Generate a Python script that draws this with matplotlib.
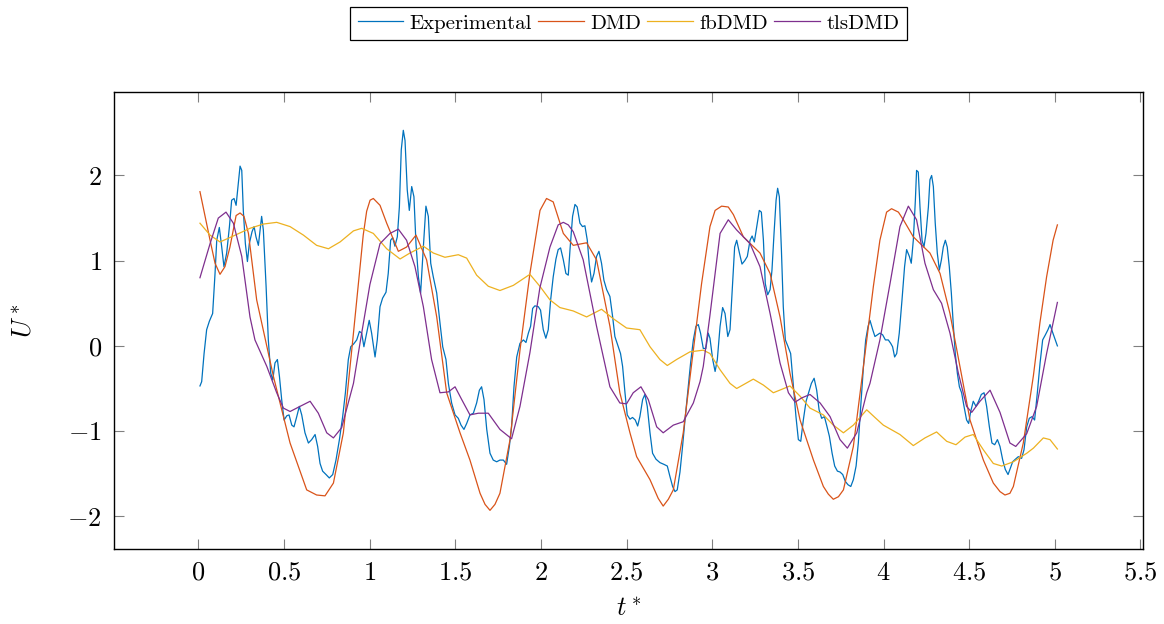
import numpy as np
import matplotlib
matplotlib.use("Agg")
import matplotlib.pyplot as plt

# LaTeX / pgfplots look
plt.rcParams['font.family'] = 'serif'
plt.rcParams['font.serif'] = ['cmr10']
plt.rcParams['mathtext.fontset'] = 'cm'
plt.rcParams['axes.formatter.use_mathtext'] = True

# Experimental signal
t_exp = [0.010, 0.020, 0.034, 0.049, 0.065, 0.084, 0.098, 0.108, 0.123, 0.137, 0.150, 0.166,
         0.182, 0.195, 0.209, 0.221, 0.232, 0.244, 0.254, 0.263, 0.275, 0.287, 0.298, 0.314,
         0.326, 0.337, 0.351, 0.361, 0.370, 0.380, 0.396, 0.409, 0.423, 0.435, 0.448, 0.462,
         0.474, 0.487, 0.501, 0.517, 0.530, 0.546, 0.559, 0.575, 0.590, 0.604, 0.623, 0.643,
         0.662, 0.682, 0.697, 0.711, 0.726, 0.746, 0.765, 0.785, 0.804, 0.824, 0.843, 0.859,
         0.876, 0.890, 0.906, 0.925, 0.941,
         0.954, 0.967, 0.983, 0.998, 1.012, 1.032, 1.045, 1.061, 1.076, 1.096, 1.109, 1.123,
         1.135, 1.148, 1.162, 1.174, 1.185, 1.197, 1.207, 1.220, 1.232, 1.246, 1.259, 1.271,
         1.285, 1.298, 1.314, 1.329, 1.343, 1.357, 1.372, 1.392, 1.411, 1.427, 1.446, 1.460,
         1.479, 1.499, 1.518, 1.534, 1.551, 1.567, 1.586, 1.606, 1.625, 1.641, 1.654, 1.668,
         1.684, 1.703, 1.722, 1.742, 1.761, 1.781, 1.800, 1.816, 1.829, 1.843, 1.859, 1.878,
         1.898, 1.913, 1.927, 1.940,
         1.952, 1.965, 1.985, 1.998, 2.014, 2.029, 2.043, 2.057, 2.072, 2.088, 2.101, 2.115,
         2.131, 2.146, 2.160, 2.170, 2.185, 2.199, 2.212, 2.228, 2.243, 2.257, 2.271, 2.282,
         2.296, 2.310, 2.325, 2.339, 2.354, 2.368, 2.384, 2.403, 2.419, 2.432, 2.452, 2.465,
         2.477, 2.491, 2.504, 2.520, 2.535, 2.551, 2.565, 2.578, 2.594, 2.607, 2.621, 2.637,
         2.652, 2.672, 2.695, 2.718, 2.738, 2.753, 2.769, 2.783, 2.796, 2.812, 2.827, 2.843,
         2.858, 2.874, 2.890, 2.905, 2.919, 2.932, 2.948, 2.963, 2.977,
         2.987, 3.003, 3.017, 3.030, 3.046, 3.061, 3.075, 3.091, 3.104, 3.118, 3.131, 3.143,
         3.159, 3.174, 3.190, 3.205, 3.221, 3.233, 3.246, 3.260, 3.275, 3.287, 3.299, 3.310,
         3.324, 3.338, 3.349, 3.361, 3.373, 3.382, 3.392, 3.404, 3.415, 3.427, 3.443, 3.458,
         3.474, 3.489, 3.503, 3.517, 3.532, 3.548, 3.563, 3.579, 3.595, 3.610, 3.624, 3.639,
         3.655, 3.668, 3.684, 3.700, 3.715, 3.731, 3.746, 3.762, 3.777, 3.793, 3.809, 3.824,
         3.840, 3.853, 3.867, 3.883, 3.896, 3.910,
         3.921, 3.937, 3.950, 3.964, 3.979, 3.995, 4.011, 4.028, 4.042, 4.053, 4.065, 4.077,
         4.092, 4.108, 4.123, 4.135, 4.151, 4.162, 4.174, 4.186, 4.193, 4.203, 4.213, 4.225,
         4.236, 4.248, 4.262, 4.271, 4.281, 4.291, 4.302, 4.314, 4.326, 4.338, 4.349, 4.361,
         4.372, 4.384, 4.396, 4.408, 4.419, 4.431, 4.443, 4.456, 4.470, 4.485, 4.497, 4.509,
         4.524, 4.540, 4.555, 4.571, 4.587, 4.602, 4.618, 4.633, 4.649, 4.665, 4.680, 4.696,
         4.711, 4.727, 4.738, 4.754, 4.770, 4.787, 4.806, 4.820, 4.836, 4.851, 4.867, 4.882,
         4.898, 4.914, 4.929, 4.945, 4.960, 4.972, 4.987, 5.015]
u_exp = [-0.47, -0.42, -0.09, 0.19, 0.29, 0.38, 0.85, 1.24, 1.39, 1.16, 0.93, 1.09,
         1.40, 1.71, 1.73, 1.65, 1.87, 2.11, 2.06, 1.59, 1.20, 0.99, 1.20, 1.34,
         1.40, 1.28, 1.18, 1.36, 1.52, 1.36, 0.70, 0.07, -0.32, -0.40, -0.20, -0.16,
         -0.36, -0.63, -0.87, -0.82, -0.81, -0.93, -0.95, -0.83, -0.71, -0.81, -1.02, -1.14,
         -1.10, -1.04, -1.18, -1.38, -1.47, -1.51, -1.55, -1.51, -1.34, -1.10, -0.83, -0.55,
         -0.16, -0.01, 0.02, 0.07, 0.17,
         0.15, -0.01, 0.15, 0.30, 0.15, -0.13, 0.07, 0.46, 0.56, 0.63, 0.85, 1.24,
         1.27, 1.17, 1.28, 1.63, 2.30, 2.53, 2.41, 1.83, 1.59, 1.87, 1.75, 1.20,
         0.81, 0.62, 1.16, 1.64, 1.52, 0.97, 0.81, 0.62, 0.27, -0.01, -0.16, -0.44,
         -0.67, -0.81, -0.85, -0.93, -0.98, -0.91, -0.81, -0.79, -0.67, -0.52, -0.48, -0.63,
         -0.98, -1.26, -1.34, -1.36, -1.34, -1.34, -1.39, -1.18, -0.95, -0.48, -0.13, 0.03,
         0.07, 0.04, 0.15, 0.23,
         0.44, 0.47, 0.46, 0.42, 0.19, 0.09, 0.19, 0.54, 0.81, 1.02, 1.13, 1.15,
         1.01, 0.85, 0.83, 1.13, 1.52, 1.66, 1.63, 1.44, 1.40, 1.41, 1.24, 0.97,
         0.75, 0.85, 1.05, 1.11, 0.97, 0.77, 0.66, 0.58, 0.34, 0.11, -0.01, -0.09,
         -0.24, -0.55, -0.81, -0.86, -0.84, -0.87, -0.94, -0.83, -0.63, -0.57, -0.71, -1.02,
         -1.26, -1.33, -1.37, -1.39, -1.41, -1.53, -1.65, -1.71, -1.69, -1.48, -1.18, -0.83,
         -0.52, -0.20, 0.07, 0.23, 0.25, 0.15, -0.03, -0.03, 0.15,
         0.09, -0.16, -0.30, -0.16, 0.23, 0.45, 0.38, 0.11, 0.19, 0.70, 1.16, 1.24,
         1.09, 0.96, 1.00, 1.05, 1.24, 1.29, 1.22, 1.40, 1.59, 1.57, 1.24, 0.73,
         0.60, 0.66, 0.89, 1.32, 1.71, 1.85, 1.75, 1.13, 0.46, 0.07, -0.01, -0.09,
         -0.48, -0.83, -1.10, -1.12, -0.87, -0.65, -0.55, -0.44, -0.38, -0.52, -0.75, -0.85,
         -0.83, -0.93, -1.06, -1.26, -1.41, -1.47, -1.48, -1.51, -1.59, -1.63, -1.65, -1.57,
         -1.41, -1.14, -0.71, -0.24, 0.07, 0.23,
         0.30, 0.19, 0.11, 0.13, 0.15, 0.13, 0.07, 0.07, 0.03, -0.01, -0.13, -0.09,
         0.15, 0.54, 0.93, 1.13, 1.05, 0.97, 1.24, 1.71, 2.06, 2.04, 1.63, 1.24,
         1.16, 1.32, 1.63, 1.95, 2.00, 1.87, 1.44, 1.09, 0.89, 1.01, 1.16, 1.24,
         1.16, 0.93, 0.62, 0.23, -0.09, -0.32, -0.48, -0.55, -0.71, -0.87, -0.91, -0.77,
         -0.65, -0.71, -0.65, -0.57, -0.55, -0.71, -0.95, -1.14, -1.16, -1.10, -1.18, -1.34,
         -1.45, -1.51, -1.45, -1.36, -1.33, -1.30, -1.32, -1.22, -0.95, -0.85, -0.83, -0.87,
         -0.55, -0.20, 0.07, 0.13, 0.19, 0.25, 0.16, 0.00]

# DMD reconstruction
t_dmd = [0.010, 0.069, 0.098, 0.127, 0.156, 0.185, 0.221, 0.244, 0.267, 0.293, 0.341, 0.439,
         0.536, 0.633, 0.691, 0.740, 0.789, 0.847, 0.906, 0.963, 0.983, 1.003, 1.022, 1.061,
         1.100, 1.168, 1.216, 1.271, 1.333, 1.392, 1.450, 1.528, 1.586, 1.645, 1.674, 1.703,
         1.732, 1.761, 1.820, 1.878, 1.936, 1.995, 2.033, 2.072, 2.131, 2.189, 2.267, 2.325,
         2.403, 2.461, 2.520, 2.559, 2.637, 2.685, 2.714, 2.744, 2.773, 2.831, 2.890, 2.938,
         2.987, 3.017, 3.055, 3.094, 3.124, 3.182, 3.279, 3.338, 3.396, 3.454, 3.513, 3.591,
         3.649, 3.678, 3.707, 3.737, 3.766, 3.824, 3.883, 3.941, 3.979, 4.018, 4.047, 4.087,
         4.116, 4.174, 4.271, 4.330, 4.388, 4.446, 4.505, 4.583, 4.641, 4.680, 4.709, 4.738,
         4.758, 4.816, 4.875, 4.913, 4.952, 4.990, 5.015]
u_dmd = [1.81, 1.24, 0.97, 0.84, 0.93, 1.16, 1.53, 1.56, 1.52, 1.32, 0.54, -0.36,
         -1.14, -1.69, -1.75, -1.76, -1.61, -1.02, 0.15, 1.30, 1.58, 1.71, 1.73, 1.65,
         1.44, 1.11, 1.16, 1.30, 1.01, 0.34, -0.55, -1.02, -1.34, -1.73, -1.86, -1.93,
         -1.86, -1.73, -1.10, -0.05, 0.85, 1.59, 1.73, 1.69, 1.32, 1.18, 1.21, 1.01,
         0.23, -0.55, -1.02, -1.30, -1.57, -1.79, -1.88, -1.80, -1.69, -1.02, -0.05, 0.73,
         1.40, 1.59, 1.64, 1.63, 1.54, 1.28, 1.09, 0.85, 0.34, -0.32, -0.87, -1.34,
         -1.65, -1.74, -1.80, -1.77, -1.69, -1.18, -0.24, 0.70, 1.24, 1.57, 1.61, 1.57,
         1.48, 1.28, 1.09, 0.85, 0.38, -0.24, -0.87, -1.34, -1.61, -1.71, -1.75, -1.73,
         -1.65, -1.14, -0.35, 0.27, 0.81, 1.24, 1.42]

# forward-backward DMD
t_fb = [0.010, 0.069, 0.127, 0.205, 0.302, 0.380, 0.458, 0.536, 0.614, 0.691, 0.760, 0.828,
        0.906, 0.954, 1.022, 1.100, 1.178, 1.236, 1.314, 1.372, 1.440, 1.518, 1.567, 1.625,
        1.693, 1.761, 1.839, 1.936, 1.994, 2.053, 2.111, 2.189, 2.267, 2.354, 2.422, 2.500,
        2.578, 2.637, 2.695, 2.738, 2.792, 2.870, 2.948, 2.987, 3.046, 3.104, 3.143, 3.240,
        3.299, 3.357, 3.406, 3.454, 3.513, 3.571, 3.649, 3.707, 3.766, 3.824, 3.902, 3.950,
        3.999, 4.096, 4.174, 4.242, 4.310, 4.369, 4.423, 4.476, 4.524, 4.583, 4.641, 4.690,
        4.758, 4.836, 4.875, 4.933, 4.972, 5.015]
u_fb = [1.44, 1.30, 1.22, 1.29, 1.38, 1.43, 1.45, 1.40, 1.30, 1.18, 1.14, 1.22,
        1.35, 1.38, 1.32, 1.14, 1.02, 1.09, 1.17, 1.09, 1.04, 1.07, 1.03, 0.83,
        0.70, 0.65, 0.71, 0.84, 0.70, 0.54, 0.45, 0.41, 0.34, 0.43, 0.32, 0.21,
        0.19, -0.01, -0.16, -0.23, -0.16, -0.07, -0.05, -0.09, -0.28, -0.44, -0.50, -0.39,
        -0.46, -0.55, -0.51, -0.47, -0.59, -0.73, -0.81, -0.93, -1.02, -0.93, -0.75, -0.84,
        -0.93, -1.04, -1.17, -1.08, -1.01, -1.12, -1.16, -1.07, -1.04, -1.22, -1.38, -1.41,
        -1.36, -1.26, -1.20, -1.08, -1.10, -1.21]

# total least squares DMD
t_tls = [0.010, 0.069, 0.117, 0.162, 0.205, 0.254, 0.302, 0.331, 0.400, 0.458, 0.497, 0.536,
         0.594, 0.653, 0.701, 0.750, 0.789, 0.837, 0.906, 0.944, 1.002, 1.061, 1.119, 1.168,
         1.216, 1.265, 1.314, 1.362, 1.411, 1.460, 1.499, 1.538, 1.586, 1.635, 1.693, 1.761,
         1.829, 1.878, 1.936, 1.994, 2.053, 2.101, 2.131, 2.160, 2.189, 2.247, 2.325, 2.403,
         2.461, 2.500, 2.539, 2.584, 2.627, 2.676, 2.714, 2.773, 2.831, 2.890, 2.929, 2.948,
         2.987, 3.046, 3.094, 3.143, 3.221, 3.279, 3.338, 3.396, 3.445, 3.484, 3.523, 3.571,
         3.630, 3.688, 3.746, 3.789, 3.844, 3.902, 3.921, 3.979, 4.038, 4.096, 4.145, 4.193,
         4.242, 4.291, 4.339, 4.388, 4.437, 4.485, 4.515, 4.563, 4.622, 4.680, 4.738, 4.772,
         4.836, 4.894, 4.952, 5.015]
u_tls = [0.80, 1.20, 1.50, 1.57, 1.44, 1.05, 0.34, 0.07, -0.24, -0.55, -0.73, -0.77,
         -0.71, -0.65, -0.79, -1.02, -1.08, -0.96, -0.44, 0.03, 0.72, 1.20, 1.32, 1.37,
         1.24, 0.93, 0.46, -0.16, -0.55, -0.54, -0.48, -0.63, -0.81, -0.79, -0.79, -0.98,
         -1.09, -0.71, -0.08, 0.68, 1.16, 1.42, 1.45, 1.42, 1.34, 1.01, 0.23, -0.48,
         -0.67, -0.68, -0.55, -0.48, -0.63, -0.95, -1.02, -0.93, -0.89, -0.67, -0.42, -0.24,
         0.36, 1.32, 1.48, 1.36, 1.20, 0.93, 0.38, -0.20, -0.55, -0.66, -0.61, -0.57,
         -0.67, -0.83, -1.10, -1.20, -1.02, -0.55, -0.44, 0.07, 0.73, 1.40, 1.64, 1.48,
         0.97, 0.66, 0.50, 0.15, -0.32, -0.71, -0.78, -0.65, -0.52, -0.78, -1.14, -1.18,
         -1.03, -0.71, -0.09, 0.51]

x_ticks = [0, 0.5, 1, 1.5, 2, 2.5, 3, 3.5, 4, 4.5, 5, 5.5]
y_ticks = [-2, -1, 0, 1, 2]

fig = plt.figure(figsize=(11.64, 6.24), dpi=100)
ax = fig.add_axes([0.0982, 0.1207, 0.8835, 0.7319])

lw = 0.9
ax.plot(t_exp, u_exp, color='#0072BD', lw=lw, label='Experimental')
ax.plot(t_dmd, u_dmd, color='#D95319', lw=lw, label='DMD')
ax.plot(t_fb, u_fb, color='#EDB120', lw=lw, label='fbDMD')
ax.plot(t_tls, u_tls, color='#7E2F8E', lw=lw, label='tlsDMD')

ax.set_xlim(-0.49, 5.513)
ax.set_ylim(-2.38, 2.98)
ax.set_xticks(x_ticks)
ax.set_yticks(y_ticks)
ax.set_xticklabels([f'${v:g}$' for v in x_ticks])
ax.set_yticklabels([f'${v:g}$' for v in y_ticks])
ax.tick_params(direction='in', length=7, width=0.8, color='0.5', labelsize=19,
               top=True, right=True, pad=9)
for s in ax.spines.values():
    s.set_linewidth(1.0)

ax.set_xlabel(r'$t^*$', fontsize=19, labelpad=9)
ax.set_ylabel(r'$U^*$', fontsize=19, labelpad=23)

leg = ax.legend(loc='lower center', bbox_to_anchor=(0.5, 1.114), ncol=4, fontsize=15,
                frameon=True, fancybox=False, edgecolor='black', framealpha=1,
                handlelength=2.2, handletextpad=0.3, columnspacing=0.3,
                borderpad=0.35, borderaxespad=0)
leg.get_frame().set_linewidth(0.9)

plt.savefig('out.png', dpi=100)
